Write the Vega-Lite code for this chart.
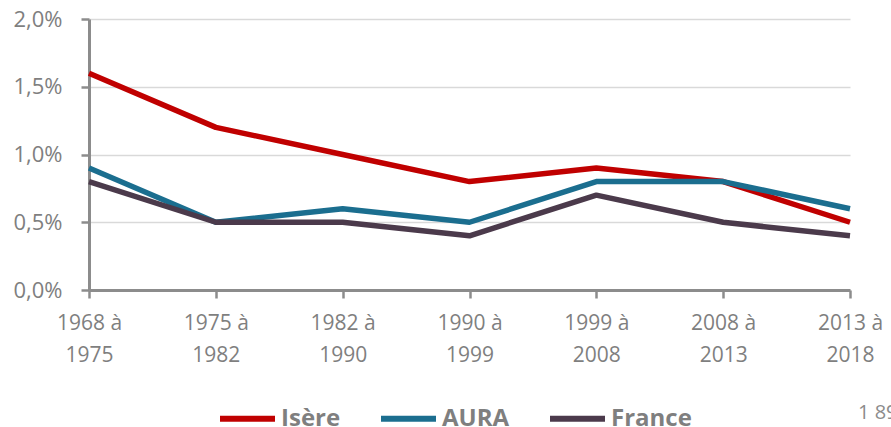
{
  "$schema": "https://vega.github.io/schema/vega-lite/v6.json",
  "width": 761,
  "height": 271,
  "autosize": "none",
  "padding": {"left": 89, "top": 19, "right": 41, "bottom": 137},
  "background": "white",
  "config": {
    "font": "Open Sans",
    "view": {"stroke": null}
  },
  "title": {
    "text": "1 89",
    "orient": "bottom",
    "anchor": "end",
    "frame": "group",
    "align": "left",
    "baseline": "top",
    "dx": 8,
    "offset": -28,
    "fontSize": 20,
    "fontWeight": "normal",
    "color": "#8c8c8c",
    "font": "Open Sans"
  },
  "data": {
    "values": [
      {"periode": "1968 à|1975", "zone": "Isère", "taux": 1.6},
      {"periode": "1975 à|1982", "zone": "Isère", "taux": 1.2},
      {"periode": "1982 à|1990", "zone": "Isère", "taux": 1.0},
      {"periode": "1990 à|1999", "zone": "Isère", "taux": 0.8},
      {"periode": "1999 à|2008", "zone": "Isère", "taux": 0.9},
      {"periode": "2008 à|2013", "zone": "Isère", "taux": 0.8},
      {"periode": "2013 à|2018", "zone": "Isère", "taux": 0.5},
      {"periode": "1968 à|1975", "zone": "AURA", "taux": 0.9},
      {"periode": "1975 à|1982", "zone": "AURA", "taux": 0.5},
      {"periode": "1982 à|1990", "zone": "AURA", "taux": 0.6},
      {"periode": "1990 à|1999", "zone": "AURA", "taux": 0.5},
      {"periode": "1999 à|2008", "zone": "AURA", "taux": 0.8},
      {"periode": "2008 à|2013", "zone": "AURA", "taux": 0.8},
      {"periode": "2013 à|2018", "zone": "AURA", "taux": 0.6},
      {"periode": "1968 à|1975", "zone": "France", "taux": 0.8},
      {"periode": "1975 à|1982", "zone": "France", "taux": 0.5},
      {"periode": "1982 à|1990", "zone": "France", "taux": 0.5},
      {"periode": "1990 à|1999", "zone": "France", "taux": 0.4},
      {"periode": "1999 à|2008", "zone": "France", "taux": 0.7},
      {"periode": "2008 à|2013", "zone": "France", "taux": 0.5},
      {"periode": "2013 à|2018", "zone": "France", "taux": 0.4}
    ]
  },
  "mark": {"type": "line", "strokeWidth": 5.5, "strokeJoin": "round"},
  "encoding": {
    "x": {
      "field": "periode",
      "type": "ordinal",
      "sort": null,
      "scale": {"type": "point", "padding": 0},
      "axis": {
        "title": null,
        "labelAngle": 0,
        "labelExpr": "split(datum.label, '|')",
        "labelFontSize": 21,
        "labelLineHeight": 32,
        "labelColor": "#7f7f7f",
        "labelPadding": 14,
        "labelBaseline": "top",
        "domainColor": "#8c8c8c",
        "domainWidth": 3,
        "tickColor": "#8c8c8c",
        "tickWidth": 2.5,
        "tickSize": 8,
        "grid": false
      }
    },
    "y": {
      "field": "taux",
      "type": "quantitative",
      "scale": {"domain": [0, 2], "nice": false},
      "axis": {
        "title": null,
        "values": [0, 0.5, 1, 1.5, 2],
        "labelExpr": "replace(format(datum.value, '.1f'), '.', ',') + '%'",
        "labelFontSize": 22,
        "labelColor": "#7f7f7f",
        "labelPadding": 19,
        "domainColor": "#8c8c8c",
        "domainWidth": 3,
        "tickColor": "#8c8c8c",
        "tickWidth": 2.5,
        "tickSize": 8,
        "gridColor": "#d9d9d9",
        "gridWidth": 1.5
      }
    },
    "color": {
      "field": "zone",
      "type": "nominal",
      "sort": ["Isère", "AURA", "France"],
      "scale": {"domain": ["Isère", "AURA", "France"], "range": ["#c00000", "#1b6e8f", "#4b3a4b"]},
      "legend": {
        "title": null,
        "orient": "none",
        "legendX": 128,
        "legendY": 369,
        "direction": "horizontal",
        "symbolType": "stroke",
        "symbolSize": 3025,
        "symbolStrokeWidth": 6,
        "labelFont": "Open Sans",
        "labelFontSize": 24,
        "labelFontWeight": "bold",
        "labelColor": "#7f7f7f",
        "labelOffset": 3,
        "columnPadding": 28
      }
    }
  }
}
